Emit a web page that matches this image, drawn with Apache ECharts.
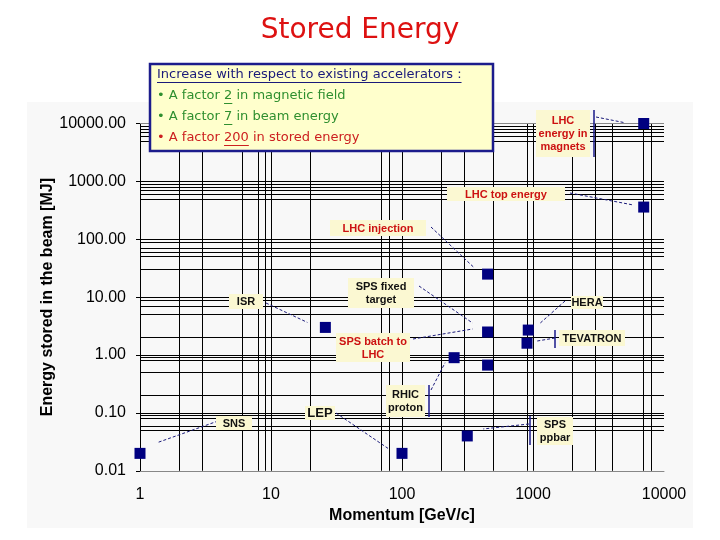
<!DOCTYPE html>
<html><head><meta charset="utf-8">
<script src="https://cdn.jsdelivr.net/npm/echarts@6/dist/echarts.min.js"></script>
<style>html,body{margin:0;padding:0;background:#fff}#c{width:720px;height:540px}</style>
</head><body><div id="c"></div><script>
// ---- data ----
const machines = ['SNS','ISR','LEP','RHIC proton','SPS ppbar','LHC injection','SPS fixed target','SPS','HERA','TEVATRON','LHC top energy','LHC energy in magnets'];
const momentum = [1, 26, 100, 250, 315, 450, 450, 450, 920, 900, 7000, 7000];
const storedEnergy = [0.02, 3, 0.02, 0.9, 0.04, 25, 2.5, 0.67, 2.7, 1.6, 360, 10000];
const xGridLines = [2,3,6,8,9,10,20,70,80,100,200,300,500,900,1000,2000,3000,4000,7000,8000];
const yGridLines = [9000,8000,7000,6000,5000,1000,900,800,700,600,500,100,90,70,60,50,30,10,9,7,5,2,1,0.9,0.8,0.5,0.2,0.1,0.09,0.08,0.06,0.05];
const titleText = 'Stored Energy';
const xName = 'Momentum [GeV/c]';
const yName = 'Energy stored in the beam [MJ]';
const noteLines = [
  [{t:'Increase with respect to existing accelerators :', c:'#1a1a7a', u:true}],
  [{t:'\u2022 A factor ', c:'#2f8f2f'}, {t:'2', c:'#2f8f2f', u:true}, {t:' in magnetic field', c:'#2f8f2f'}],
  [{t:'\u2022 A factor ', c:'#2f8f2f'}, {t:'7', c:'#2f8f2f', u:true}, {t:' in beam energy', c:'#2f8f2f'}],
  [{t:'\u2022 A factor ', c:'#cc2020'}, {t:'200', c:'#cc2020', u:true}, {t:' in stored energy', c:'#cc2020'}]
];
const RED = '#cc1111', BLK = '#111111';
// annotation layout: label box [x,y,w,h], leader line start, target point index, offset from point
const annotations = [
  {text:'SNS', color:BLK, size:11, box:[216,416,36,14], from:[218,421], point:0, off:[18,-11]},
  {text:'ISR', color:BLK, size:11, box:[229,294,34,15], from:[266,303], point:1, off:[-18,-5]},
  {text:'LEP', color:BLK, size:13, box:[305,406,30,14], from:[336,413], point:2, off:[-14,-5]},
  {text:'RHIC\nproton', color:BLK, size:11, box:[386,385,39,32], from:[431,390], point:3, off:[-9,5], bar:[429,385,417]},
  {text:'SPS\nppbar', color:BLK, size:11, box:[537,417,36,28], from:[529,424], point:4, off:[16,-7], bar:[530,416,445]},
  {text:'LHC injection', color:RED, size:11, box:[330,220,96,16], from:[431,227], point:5, off:[-14,-7]},
  {text:'SPS fixed\ntarget', color:BLK, size:11, box:[348,278,66,30], from:[419,286], point:6, off:[-15,-9]},
  {text:'SPS batch to\nLHC', color:RED, size:11, box:[336,333,74,29], from:[413,339], point:6, off:[-15,-3]},
  {text:'HERA', color:BLK, size:11, box:[571,296,32,13], from:[565,301], point:8, off:[12,-7]},
  {text:'TEVATRON', color:BLK, size:11, box:[559,330,66,16], from:[555,338], point:9, off:[9,-2], bar:[555,330,348]},
  {text:'LHC top energy', color:RED, size:11, box:[447,187,118,14], from:[570,193], point:10, off:[-10,-2]},
  {text:'LHC\nenergy in\nmagnets', color:RED, size:11, box:[536,110,54,47], from:[596,117], point:11, off:[-20,-1], bar:[594,110,157]}
];

const chart = echarts.init(document.getElementById('c'), null, {renderer:'canvas'});
const gridLineStyle = {type:'solid', color:'#000', width:1};
const markData = xGridLines.map(v => ({xAxis:v}))
  .concat(yGridLines.map(v => ({yAxis:v})))
  .concat([{yAxis:10000, lineStyle:{color:'#888', width:1, type:'solid'}}]);

chart.setOption({
  animation:false,
  backgroundColor:'#ffffff',
  title:{text:titleText, left:'center', top:12, textStyle:{color:'#dd1111', fontSize:28, fontWeight:'normal', fontFamily:'"DejaVu Sans", sans-serif'}},
  grid:{left:140, right:56, top:123.5, bottom:69.2},
  xAxis:{type:'log', logBase:10, min:1, max:10000,
    name:xName, nameLocation:'middle', nameGap:37,
    nameTextStyle:{color:'#000', fontSize:16, fontWeight:'bold', fontFamily:'"Liberation Sans", Arial'},
    axisLine:{show:true, lineStyle:{color:'#888', width:1}},
    axisTick:{show:false}, splitLine:{show:false}, minorTick:{show:false},
    axisLabel:{color:'#000', fontSize:16, margin:16, fontFamily:'"Liberation Sans", Arial', formatter:v=>String(Math.round(v))}},
  yAxis:{type:'log', logBase:10, min:0.01, max:10000,
    name:yName, nameLocation:'middle', nameGap:84, nameRotate:90, nameMoveOverlap:false,
    nameTextStyle:{color:'#000', fontSize:16, fontWeight:'bold', fontFamily:'"Liberation Sans", Arial'},
    axisLine:{show:true, lineStyle:{color:'#000', width:1}},
    axisTick:{show:true, length:4, lineStyle:{color:'#000'}}, splitLine:{show:false},
    axisLabel:{color:'#000', fontSize:16, margin:14, fontFamily:'"Liberation Sans", Arial', formatter:v=>v.toFixed(2)}},
  series:[
    {type:'scatter', data:[], z:1, silent:true,
     markLine:{silent:true, symbol:['none','none'], label:{show:false}, lineStyle:gridLineStyle, animation:false, data:markData}},
    {type:'scatter', name:'machines', z:5, clip:false, symbol:'rect', symbolSize:11,
     itemStyle:{color:'#000080', opacity:1},
     data:momentum.map((m,i)=>({name:machines[i], value:[m, storedEnergy[i]]}))}
  ]
});

const mctx = document.createElement('canvas').getContext('2d');
function tw(t, font){ mctx.font = font; return mctx.measureText(t).width; }

function buildGraphics(){
  const g = [];
  g.push({type:'rect', z:-10, silent:true, shape:{x:27,y:102,width:666,height:426}, style:{fill:'#f8f8f8'}});
  annotations.forEach(a => {
    const p = chart.convertToPixel({seriesIndex:1}, [momentum[a.point], storedEnergy[a.point]]);
    g.push({type:'line', z:50, silent:true, shape:{x1:a.from[0], y1:a.from[1], x2:p[0]+a.off[0], y2:p[1]+a.off[1]},
      style:{stroke:'#1a1a7a', lineWidth:1, lineDash:[3,2]}});
    if (a.bar) g.push({type:'line', z:50, silent:true, shape:{x1:a.bar[0], y1:a.bar[1], x2:a.bar[0], y2:a.bar[2]},
      style:{stroke:'#1a1a8a', lineWidth:1.5}});
    g.push({type:'rect', z:60, silent:true, shape:{x:a.box[0], y:a.box[1], width:a.box[2], height:a.box[3]}, style:{fill:'#fbf8d2'}});
    g.push({type:'text', z:61, silent:true, x:a.box[0]+a.box[2]/2, y:a.box[1]+a.box[3]/2+0.5,
      style:{text:a.text, fill:a.color, font:'bold '+a.size+'px "Liberation Sans", Arial', align:'center', verticalAlign:'middle', lineHeight:13}});
  });
  // note box
  g.push({type:'rect', z:70, silent:true, shape:{x:150,y:64,width:343,height:87}, style:{fill:'#ffffcc', stroke:'#1c1c8c', lineWidth:2.5}});
  const font = '13px "DejaVu Sans", sans-serif';
  const ys = [75, 96, 117, 138];
  noteLines.forEach((segs, li) => {
    let x = 157;
    segs.forEach(s => {
      const w = tw(s.t, font);
      g.push({type:'text', z:71, silent:true, x:x, y:ys[li], style:{text:s.t, fill:s.c, font:font, align:'left', verticalAlign:'middle'}});
      if (s.u) g.push({type:'line', z:71, silent:true, shape:{x1:x, y1:ys[li]+7.5, x2:x+w, y2:ys[li]+7.5}, style:{stroke:s.c, lineWidth:1}});
      x += w;
    });
  });
  chart.setOption({graphic:{elements:g}});
}
buildGraphics();
</script></body></html>
